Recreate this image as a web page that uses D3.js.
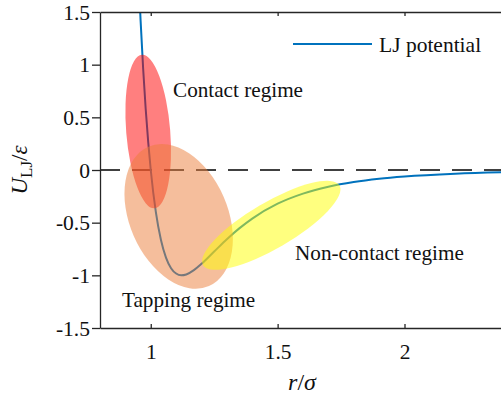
<!DOCTYPE html>
<html>
<head>
<meta charset="utf-8">
<script src="https://cdn.jsdelivr.net/npm/d3@7"></script>
<style>
  html, body { margin: 0; padding: 0; background: #fff; }
  svg { display: block; }
  text { font-family: "Liberation Serif", "Times New Roman", serif; fill: #111; }
</style>
</head>
<body>
<svg id="chart" width="501" height="399"></svg>
<script>
// Lennard-Jones potential, tabulated: separation r/sigma and energy U/epsilon
const rValues = [0.955, 0.96, 0.97, 0.98, 0.99, 1.0, 1.02, 1.04, 1.06, 1.08, 1.1, 1.12, 1.14, 1.17, 1.2, 1.25, 1.3, 1.35, 1.4, 1.5, 1.6, 1.7, 1.8, 1.9, 2.0, 2.2, 2.4, 2.5];
const uValues = [1.678, 1.418, 0.963, 0.582, 0.264, 0, -0.398, -0.663, -0.832, -0.932, -0.983, -1.0, -0.992, -0.951, -0.891, -0.774, -0.657, -0.552, -0.461, -0.320, -0.224, -0.159, -0.114, -0.083, -0.0615, -0.035, -0.0208, -0.0163];

const xTicks = [1, 1.5, 2];
const yTicks = [1.5, 1, 0.5, 0, -0.5, -1, -1.5];

// Operating regimes marked on the curve
const regimeNames = ["Contact regime", "Tapping regime", "Non-contact regime"];
const regimeCenterR = [0.99, 1.11, 1.475];
const regimeCenterU = [0.365, -0.44, -0.525];

const svg = d3.select("#chart");
const x = d3.scaleLinear().domain([0.8, 2.4]).range([100, 506]);
const y = d3.scaleLinear().domain([-1.5, 1.5]).range([328, 12]);

const axisColor = "#262626";

svg.append("defs").append("clipPath").attr("id", "plotClip")
  .append("rect").attr("x", 100).attr("y", 12).attr("width", 406).attr("height", 316);

const plot = svg.append("g").attr("clip-path", "url(#plotClip)");

// zero reference line
plot.append("line")
  .attr("x1", x(0.8)).attr("x2", x(2.4))
  .attr("y1", y(0)).attr("y2", y(0))
  .attr("stroke", "#404040").attr("stroke-width", 2)
  .attr("stroke-dasharray", "20,12");

// potential curve
const pts = rValues.map((r, i) => [r, uValues[i]]);
plot.append("path")
  .datum(pts)
  .attr("fill", "none")
  .attr("stroke", "#0072BD")
  .attr("stroke-width", 2)
  .attr("d", d3.line().x(d => x(d[0])).y(d => y(d[1])).curve(d3.curveMonotoneX));

// translucent regime ellipses
const ellipseStyle = [
  { fill: "#ff0000", opacity: 0.5, rx: 22, ry: 77, rot: -4.7 },
  { fill: "#ec7e3a", opacity: 0.5, rx: 49, ry: 76, rot: -23.5 },
  { fill: "#ffff00", opacity: 0.5, rx: 79, ry: 23, rot: -30.3 }
];
regimeNames.forEach((name, i) => {
  const s = ellipseStyle[i];
  const cx = x(regimeCenterR[i]), cy = y(regimeCenterU[i]);
  plot.append("ellipse")
    .attr("cx", 0).attr("cy", 0)
    .attr("rx", s.rx).attr("ry", s.ry)
    .attr("transform", `translate(${cx},${cy}) rotate(${s.rot})`)
    .attr("fill", s.fill)
    .attr("fill-opacity", s.opacity);
});

// axes
const fmt = d => String(d);
const gx = svg.append("g").attr("transform", "translate(0,328)")
  .call(d3.axisBottom(x).tickValues(xTicks).tickSize(-4).tickSizeOuter(0).tickPadding(16).tickFormat(fmt));
const gTop = svg.append("g").attr("transform", "translate(0,12)")
  .call(d3.axisTop(x).tickValues(xTicks).tickSize(-4).tickSizeOuter(0).tickFormat(""));
const gy = svg.append("g").attr("transform", "translate(100,0)")
  .call(d3.axisLeft(y).tickValues(yTicks).tickSize(8).tickSizeOuter(0).tickPadding(2).tickFormat(fmt));

[gx, gTop, gy].forEach(g => {
  g.select(".domain").attr("stroke", axisColor).attr("stroke-width", 1.3);
  g.selectAll(".tick line").attr("stroke", axisColor).attr("stroke-width", 1.3);
  g.selectAll("text")
    .style("font-family", "'Liberation Serif', serif")
    .style("font-size", "21.5px")
    .style("fill", "#111");
});
gy.selectAll("text").attr("dy", "0.33em");

// axis titles
const xl = svg.append("text").attr("x", 302).attr("y", 390).attr("text-anchor", "middle").style("font-size", "24px");
xl.append("tspan").style("font-style", "italic").text("r");
xl.append("tspan").text("/");
xl.append("tspan").style("font-style", "italic").text("σ");

const yl = svg.append("text").attr("transform", "translate(27,170) rotate(-90)").attr("text-anchor", "middle").style("font-size", "23px");
yl.append("tspan").style("font-style", "italic").text("U");
yl.append("tspan").style("font-size", "17px").attr("dy", 5).text("LJ");
yl.append("tspan").attr("dy", -5).text("/");
yl.append("tspan").style("font-style", "italic").text("ε");

// regime labels
const labelPos = [[173, 97], [122, 307], [295, 260]];
regimeNames.forEach((name, i) => {
  svg.append("text").attr("x", labelPos[i][0]).attr("y", labelPos[i][1])
    .style("font-size", "21.2px").text(name);
});

// legend
svg.append("line").attr("x1", 293).attr("x2", 372).attr("y1", 44).attr("y2", 44)
  .attr("stroke", "#0072BD").attr("stroke-width", 2);
svg.append("text").attr("x", 379).attr("y", 52).style("font-size", "21.5px").text("LJ potential");
</script>
</body>
</html>
